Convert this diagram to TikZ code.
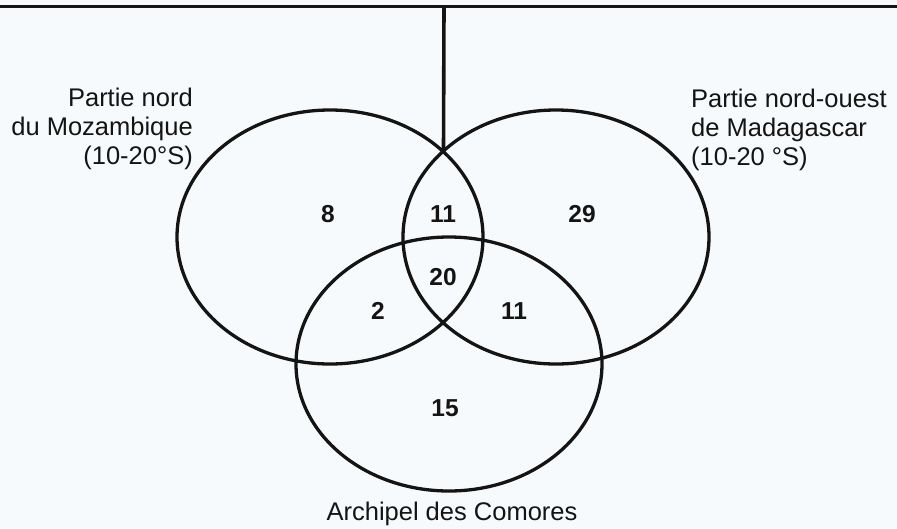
\documentclass[tikz,border=0pt]{standalone}
\usepackage{fontspec}
\setmainfont{Liberation Sans}
\usetikzlibrary{shapes.geometric}
\definecolor{bgcol}{RGB}{247,250,252}
\definecolor{inkcol}{RGB}{20,20,20}
\begin{document}
\begin{tikzpicture}[x=1pt,y=-1pt,
  setshape/.style={draw=inkcol,line width=3.3pt,ellipse,inner sep=0pt,outer sep=0pt,
     minimum width=306pt,minimum height=254pt},
  rule/.style={draw=inkcol,line width=3.6pt},
  count/.style={font=\fontsize{24.5}{28}\selectfont\bfseries,text=inkcol},
  setlabel/.style={font=\fontsize{25.5}{29}\selectfont,text=inkcol,inner sep=0pt}]
\fill[bgcol] (0,0) rectangle (897,528);
\useasboundingbox (0,0) rectangle (897,528);
\node[setshape] (ellL) at (330,237) {};
\node[setshape] (ellR) at (556,237) {};
\node[setshape] (ellB) at (449,364) {};
\coordinate (leftend) at (0,6.5);
\coordinate (rightend) at (897,6.5);
\coordinate (topjoin) at (444,6.5);
\coordinate (meet) at (443.5,151);
\draw[rule] (leftend) -- (rightend);
\draw[rule] (topjoin) -- (meet);
\node[count] (n8) at (328,214) {8};
\node[count] (n11a) at (443,214) {11};
\node[count] (n29) at (582,214) {29};
\node[count] (n20) at (443,277) {20};
\node[count] (n2) at (378,311) {2};
\node[count] (n11b) at (514,311) {11};
\node[count] (n15) at (445,408) {15};
\node[setlabel,anchor=east,align=right] (labL) at (193,129) {Partie nord\\du Mozambique\\(10-20°S)};
\node[setlabel,anchor=west,align=left] (labR) at (691,130) {Partie nord-ouest\\de Madagascar\\(10-20 °S)};
\node[setlabel] (labB) at (452,514) {Archipel des Comores};
\end{tikzpicture}
\end{document}
